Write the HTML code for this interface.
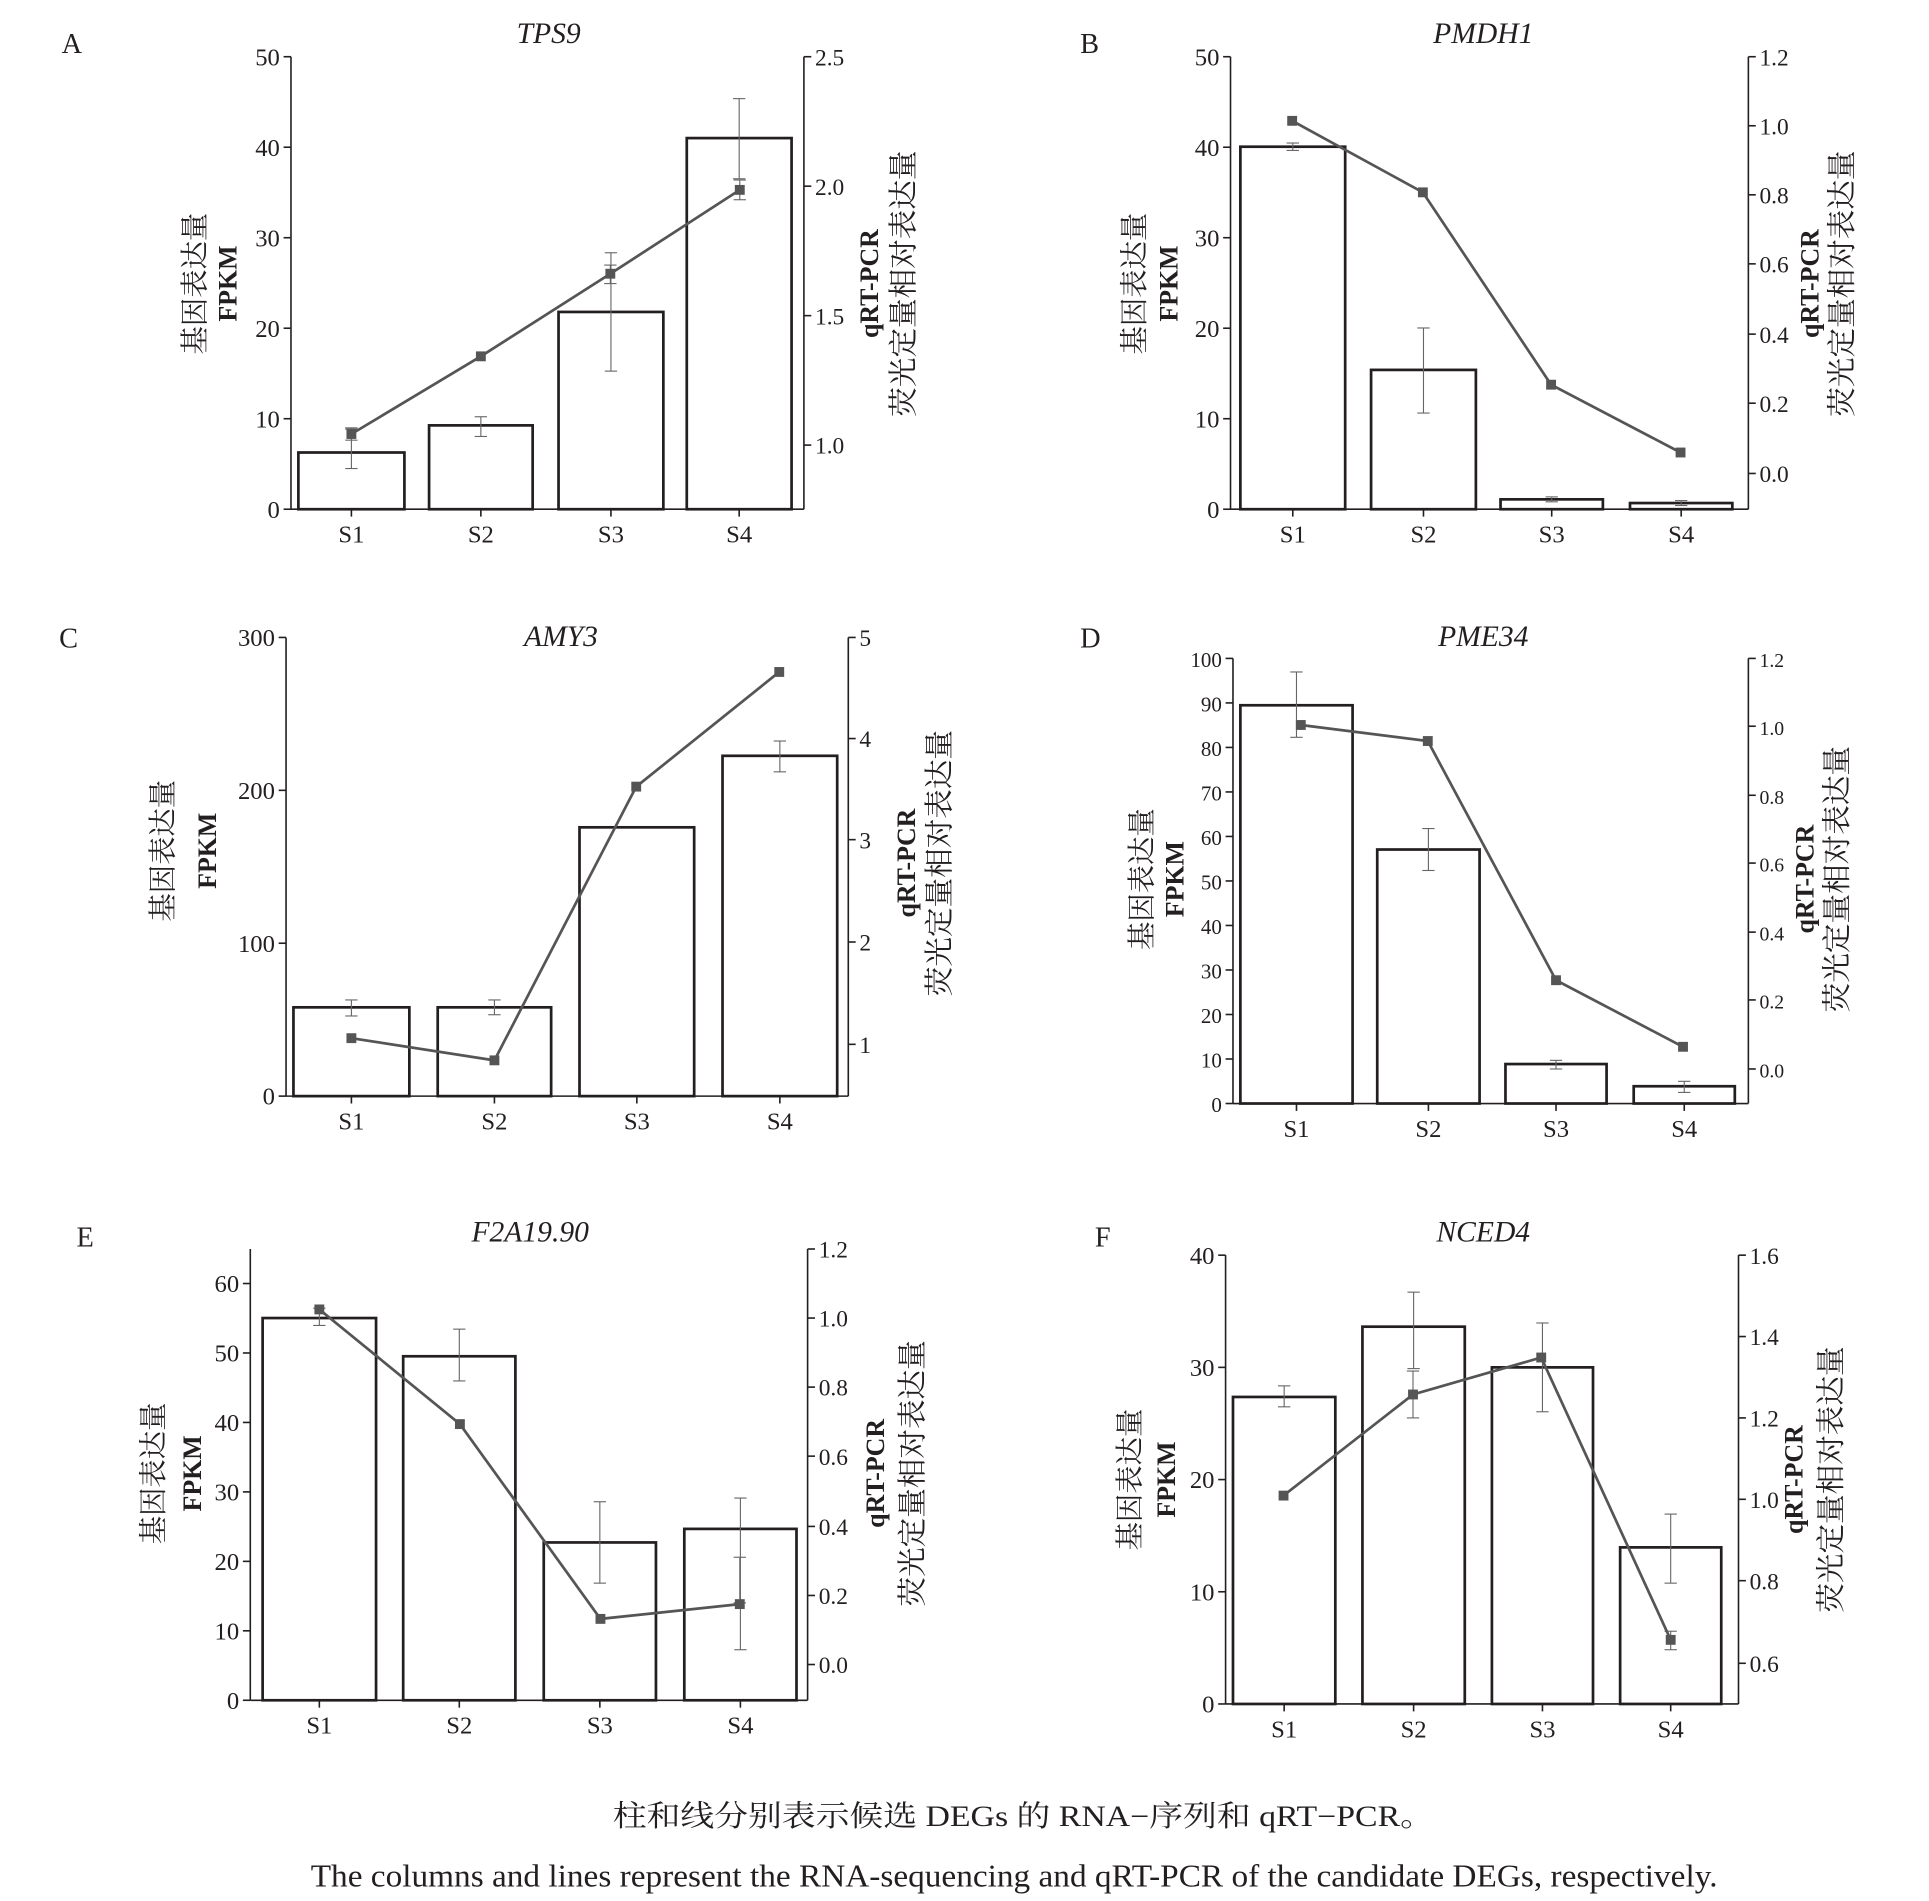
<!DOCTYPE html>
<html><head><meta charset="utf-8"><style>
html,body{margin:0;padding:0;background:#fff;}
svg{display:block;}
text{font-family:"Liberation Serif","Noto Serif CJK SC",serif;fill:#231f20;}
</style></head><body>
<svg id="s" width="1929" height="1901" viewBox="0 0 1564.5 1541.8" preserveAspectRatio="none" xmlns="http://www.w3.org/2000/svg">
<text x="497" y="1481" font-size="24" textLength="666" lengthAdjust="spacingAndGlyphs">柱和线分别表示候选 DEGs 的 RNA−序列和 qRT−PCR。</text>
<text x="252" y="1530" font-size="26" textLength="1141" lengthAdjust="spacingAndGlyphs">The columns and lines represent the RNA-sequencing and qRT-PCR of the candidate DEGs, respectively.</text>
</svg>
<script>
var S=document.getElementById('s'),NS='http://www.w3.org/2000/svg';
function el(t,a,txt){var e=document.createElementNS(NS,t);for(var k in a)e.setAttribute(k,a[k]);if(txt!==undefined)e.textContent=txt;S.appendChild(e);return e;}
function line(x1,y1,x2,y2,c,w){el('line',{x1:x1,y1:y1,x2:x2,y2:y2,stroke:c||'#231f20','stroke-width':w||1.3});}
function err(x,y1,y2){line(x,y1,x,y2,'#666',0.9);line(x-5,y1,x+5,y1,'#666',0.9);line(x-5,y2,x+5,y2,'#666',0.9);}
function P(c){
 var L=c.L,R=c.R,T=c.T,B=c.B,fs=c.fs||20;
 line(L,T,L,B,'#231f20',1.3);line(R,T,R,B,'#231f20',1.3);line(L,B,R,B,'#231f20',1.3);
 c.lt.forEach(function(t){line(L-6,t[0],L,t[0]);el('text',{x:L-9,y:t[0]+7,'font-size':fs,'text-anchor':'end'},t[1]);});
 c.rt.forEach(function(t){line(R,t[0],R+6,t[0]);el('text',{x:R+9,y:t[0]+7,'font-size':fs-1},t[1]);});
 c.bars.forEach(function(b,i){
  el('rect',{x:b[0],y:b[2],width:b[1]-b[0],height:B-b[2],fill:'none',stroke:'#231f20','stroke-width':2.2});
  var cx=(b[0]+b[1])/2;line(cx,B,cx,B+6);
  el('text',{x:cx,y:B+27,'font-size':20,'text-anchor':'middle'},'S'+(i+1));
  if(b[3])err(cx,b[3],b[4]);
 });
 (c.le||[]).forEach(function(e){err(e[0],e[1],e[2]);});
 el('polyline',{points:c.pts.map(function(p){return p.join(',')}).join(' '),fill:'none',stroke:'#555','stroke-width':2.2});
 c.pts.forEach(function(p){el('rect',{x:p[0]-4,y:p[1]-4,width:8,height:8,fill:'#555'});});
 el('text',{x:c.tx,y:c.ty,'font-size':24,'font-style':'italic','text-anchor':'middle'},c.title);
 el('text',{x:c.lx,y:c.ly,'font-size':23},c.lab);
 var cy=c.cy;
 el('text',{x:0,y:0,'font-size':23,'text-anchor':'middle',transform:'translate('+(c.a1+1)+','+cy+') rotate(-90)'},'基因表达量');
 el('text',{x:0,y:0,'font-size':21,'font-weight':'bold','text-anchor':'middle',transform:'translate('+c.a2+','+cy+') rotate(-90)'},'FPKM');
 el('text',{x:0,y:0,'font-size':21,'font-weight':'bold','text-anchor':'middle',transform:'translate('+c.a3+','+c.cy2+') rotate(-90)'},'qRT-PCR');
 el('text',{x:0,y:0,'font-size':24,'text-anchor':'middle',transform:'translate('+(c.a4+1)+','+c.cy2+') rotate(-90)'},'荧光定量相对表达量');
}
function ticks(top,bot,vals){var n=vals.length-1;return vals.map(function(v,i){return [bot-(bot-top)*i/n,v];});}
P({L:236,R:652,T:46,B:413,lt:ticks(46,413,['0','10','20','30','40','50']),
 rt:[[46,'2.5'],[151,'2.0'],[256,'1.5'],[361,'1.0']],
 bars:[[242,328,367,348,380],[348,432,345,338,354],[453,538,253,205,301],[557,642,112,80,145]],
 le:[[285,347,357],[495,215,230],[600,146,162]],
 pts:[[285,352],[390,289],[495,222],[600,154]],title:'TPS9',tx:445,ty:35,lab:'A',lx:50,ly:43,
 a1:165,a2:192,cy:230,a3:712,a4:740,cy2:230});
P({L:998,R:1418,T:46,B:413,lt:ticks(46,413,['0','10','20','30','40','50']),
 rt:[[46,'1.2'],[102,'1.0'],[158,'0.8'],[214,'0.6'],[271,'0.4'],[327,'0.2'],[384,'0.0']],
 bars:[[1006,1091,119,116,122],[1112,1197,300,266,335],[1217,1300,405,403,407],[1322,1405,408,406,410]],
 pts:[[1048,98],[1154,156],[1258,312],[1363,367]],title:'PMDH1',tx:1203,ty:35,lab:'B',lx:876,ly:43,
 a1:927,a2:955,cy:230,a3:1475,a4:1501,cy2:230});
P({L:232,R:688,T:517,B:889,lt:[[889,'0'],[765,'100'],[641,'200'],[517,'300']],
 rt:[[517,'5'],[599,'4'],[681,'3'],[764,'2'],[847,'1']],
 bars:[[238,332,817,811,824],[355,447,817,811,823],[470,563,671],[586,679,613,601,626]],
 pts:[[285,842],[401,860],[516,638],[632,545]],title:'AMY3',tx:455,ty:524,lab:'C',lx:48,ly:525,
 a1:139,a2:175,cy:690,a3:742,a4:769,cy2:700});
P({L:1000,R:1418,T:534,B:895,fs:17,lt:ticks(534,895,['0','10','20','30','40','50','60','70','80','90','100']),
 rt:[[534,'1.2'],[589,'1.0'],[645,'0.8'],[700,'0.6'],[756,'0.4'],[811,'0.2'],[867,'0.0']],
 bars:[[1006,1097,572,545,598],[1117,1200,689,672,706],[1221,1303,863,860,867],[1325,1407,881,877,886]],
 pts:[[1055,588],[1158,601],[1262,795],[1365,849]],title:'PME34',tx:1203,ty:524,lab:'D',lx:876,ly:525,
 a1:933,a2:960,cy:713,a3:1471,a4:1497,cy2:713});
P({L:203,R:655,T:1013,B:1379,lt:ticks(1041,1379,['0','10','20','30','40','50','60']),
 rt:[[1013,'1.2'],[1069,'1.0'],[1125,'0.8'],[1181,'0.6'],[1238,'0.4'],[1294,'0.2'],[1350,'0.0']],
 bars:[[213,305,1069,1061,1075],[327,418,1100,1078,1120],[441,532,1251,1218,1284],[555,646,1240,1215,1338]],
 le:[[600,1263,1300]],
 pts:[[259,1062],[373,1155],[487,1313],[600,1301]],title:'F2A19.90',tx:430,ty:1007,lab:'E',lx:62,ly:1011,
 a1:131,a2:163,cy:1195,a3:717,a4:747,cy2:1195});
P({L:994,R:1410,T:1018,B:1382,lt:ticks(1018,1382,['0','10','20','30','40']),
 rt:[[1018,'1.6'],[1084,'1.4'],[1150,'1.2'],[1216,'1.0'],[1282,'0.8'],[1349,'0.6']],
 bars:[[1000,1083,1133,1124,1141],[1105,1188,1076,1048,1110],[1210,1292,1109,1073,1145],[1314,1396,1255,1228,1284]],
 le:[[1146,1112,1150],[1355,1323,1338]],
 pts:[[1041,1213],[1146,1131],[1250,1101],[1355,1330]],title:'NCED4',tx:1203,ty:1007,lab:'F',lx:888,ly:1011,
 a1:923,a2:953,cy:1200,a3:1462,a4:1492,cy2:1200});
</script>
</body></html>
